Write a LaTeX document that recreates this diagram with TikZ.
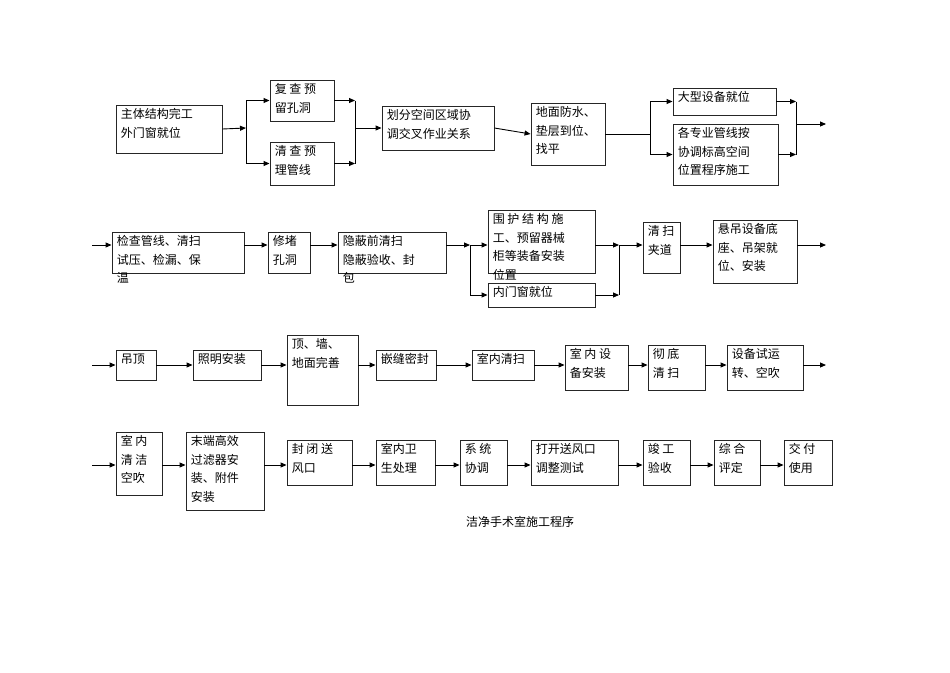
\documentclass[tikz,border=0pt]{standalone}
\usepackage{fontspec}
\setmainfont{Noto Sans CJK SC}
\usetikzlibrary{arrows.meta}
\tikzset{
 box/.style={draw=black!85,line width=0.9pt,inner sep=0pt},
 txt/.style={anchor=north west,align=left,inner sep=0pt,xshift=5pt,yshift=-4pt,font=\fontsize{12}{18.5}\selectfont},
 ar/.style={-{Triangle[length=6pt,width=5pt]},line width=0.9pt},
 ln/.style={line width=0.9pt}
}
\newcommand\bx[6]{\node[box,minimum width={#4-#2},minimum height={#5-#3}] (#1) at ({(#2+#4)/2},{(#3+#5)/2}) {};
 \node[txt] at (#1.north west) {#6};}
\begin{document}
\begin{tikzpicture}[x=1pt,y=-1pt]
\useasboundingbox (0,0) rectangle (950,672);
% row 1
\bx{A}{116}{105}{222}{153}{主体结构完工\\外门窗就位}
\bx{B}{270}{80}{334}{121}{复 查 预\\留孔洞}
\bx{C}{270}{142}{334}{185}{清 查 预\\理管线}
\bx{D}{382}{106}{494}{150}{划分空间区域协\\调交叉作业关系}
\bx{E}{531}{103}{605}{165}{地面防水、\\垫层到位、\\找平}
\bx{F}{673}{88}{776}{115}{大型设备就位}
\bx{G}{673}{124}{778}{185}{各专业管线按\\协调标高空间\\位置程序施工}
\coordinate (f1) at (246,128); \coordinate (m1) at (355,128);
\coordinate (f2) at (650,134); \coordinate (m2) at (796,124);
\coordinate (e1) at (826,124);
\draw[ar] (A.east) -- (f1);
\draw[ln] (f1) -- (f1|-B.west); \draw[ln] (f1) -- (f1|-C.west);
\draw[ar] (f1|-B.west) -- (B.west); \draw[ar] (f1|-C.west) -- (C.west);
\draw[ar] (B.east) -- (m1|-B.east); \draw[ar] (C.east) -- (m1|-C.east);
\draw[ln] (m1|-B.east) -- (m1|-C.east);
\draw[ar] (m1) -- (D.west);
\draw[ar] (D.east) -- (E.west);
\draw[ln] (E.east) -- (f2);
\draw[ln] (f2|-F.west) -- (f2|-G.west);
\draw[ar] (f2|-F.west) -- (F.west); \draw[ar] (f2|-G.west) -- (G.west);
\draw[ar] (F.east) -- (m2|-F.east); \draw[ar] (G.east) -- (m2|-G.east);
\draw[ln] (m2|-F.east) -- (m2|-G.east);
\draw[ar] (m2) -- (e1);
% row 2
\coordinate (s2) at (92,245);
\bx{H}{112}{232}{244}{273}{检查管线、清扫\\试压、检漏、保\\温}
\bx{I}{268}{232}{310}{273}{修堵\\孔洞}
\bx{J}{338}{232}{446}{273}{隐蔽前清扫\\隐蔽验收、封\\包}
\bx{K}{488}{210}{595}{273}{围 护 结 构 施\\工、预留器械\\柜等装备安装\\位置}
\bx{L}{488}{283}{595}{307}{内门窗就位}
\bx{M}{643}{222}{680}{273}{清 扫\\夹道}
\bx{N}{713}{220}{797}{283}{悬吊设备底\\座、吊架就\\位、安装}
\coordinate (f3) at (470,245); \coordinate (m3) at (619,245); \coordinate (e2) at (826,245);
\draw[ar] (s2) -- (s2-|H.west);
\draw[ar] (H.east|-s2) -- (I.west|-s2);
\draw[ar] (I.east|-s2) -- (J.west|-s2);
\draw[ar] (J.east|-s2) -- (f3);
\draw[ln] (f3) -- (f3|-L.west);
\draw[ar] (f3) -- (K.west|-f3); \draw[ar] (f3|-L.west) -- (L.west);
\draw[ar] (K.east|-f3) -- (m3); \draw[ar] (L.east) -- (m3|-L.east);
\draw[ln] (m3) -- (m3|-L.east);
\draw[ar] (m3) -- (M.west|-m3);
\draw[ar] (M.east|-s2) -- (N.west|-s2);
\draw[ar] (N.east|-s2) -- (e2);
% row 3
\coordinate (s3) at (92,365); \coordinate (e3) at (826,365);
\bx{O}{116}{350}{156}{380}{吊顶}
\bx{P}{193}{350}{261}{380}{照明安装}
\bx{Q}{287}{335}{358}{405}{顶、墙、\\地面完善}
\bx{R}{376}{350}{436}{380}{嵌缝密封}
\bx{S}{472}{350}{534}{380}{室内清扫}
\bx{T}{565}{345}{628}{390}{室 内 设\\备安装}
\bx{U}{648}{345}{705}{390}{彻 底\\清 扫}
\bx{V}{727}{345}{803}{390}{设备试运\\转、空吹}
\draw[ar] (s3) -- (O.west);
\foreach \a/\b in {O/P,P/Q,Q/R,R/S,S/T,T/U,U/V} \draw[ar] (\a.east|-s3) -- (\b.west|-s3);
\draw[ar] (V.east|-s3) -- (e3);
% row 4
\coordinate (s4) at (92,465);
\bx{W}{116}{432}{162}{495}{室 内\\清 洁\\空吹}
\bx{X}{186}{432}{264}{510}{末端高效\\过滤器安\\装、附件\\安装}
\bx{Y}{287}{440}{352}{485}{封 闭 送\\风口}
\bx{Z}{376}{440}{435}{485}{室内卫\\生处理}
\bx{AA}{460}{440}{507}{485}{系 统\\协调}
\bx{AB}{531}{440}{618}{485}{打开送风口\\调整测试}
\bx{AC}{643}{440}{690}{485}{竣 工\\验收}
\bx{AD}{714}{440}{760}{485}{综 合\\评定}
\bx{AE}{784}{440}{832}{485}{交 付\\使用}
\draw[ar] (s4) -- (W.west|-s4);
\foreach \a/\b in {W/X,X/Y,Y/Z,Z/AA,AA/AB,AB/AC,AC/AD,AD/AE} \draw[ar] (\a.east|-s4) -- (\b.west|-s4);
\node[font=\fontsize{12}{14}\selectfont] (cap) at (520,522) {洁净手术室施工程序};
\end{tikzpicture}
\end{document}
